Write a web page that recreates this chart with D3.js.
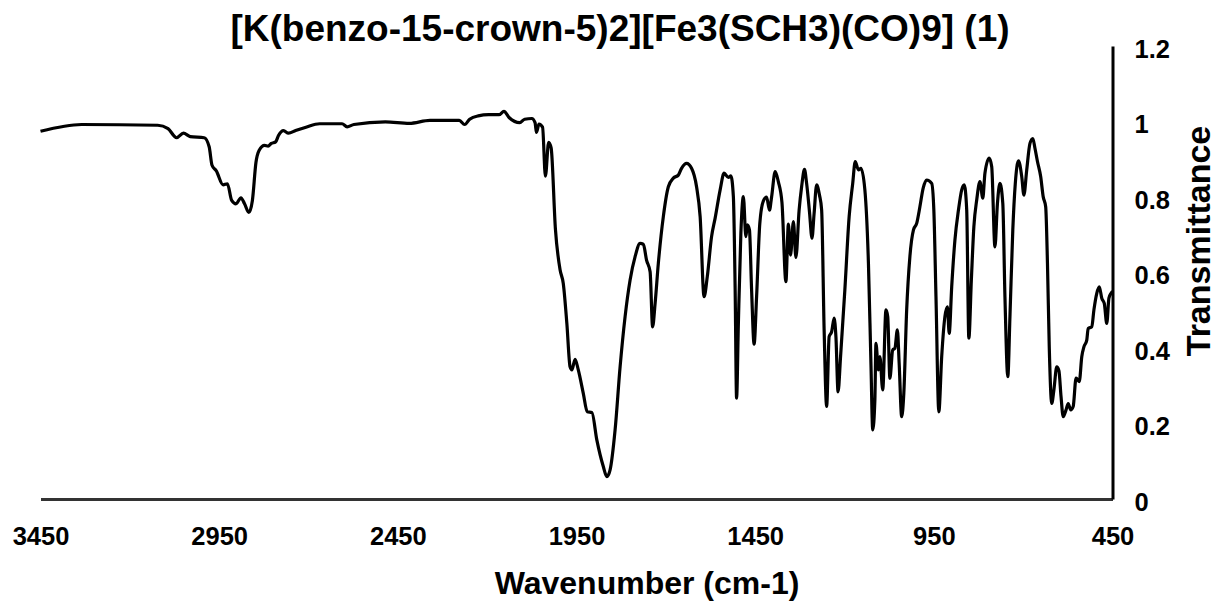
<!DOCTYPE html>
<html>
<head>
<meta charset="utf-8">
<script src="https://cdn.jsdelivr.net/npm/d3@7"></script>
<style>
  html, body { margin: 0; padding: 0; background: #fff; }
  svg text { font-family: "Liberation Sans", Arial, sans-serif; font-weight: bold; fill: #000; }
</style>
</head>
<body>
<svg id="chart" width="1218" height="607"></svg>
<script>
const chartTitle = "[K(benzo-15-crown-5)2][Fe3(SCH3)(CO)9] (1)";
const xAxisTitle = "Wavenumber (cm-1)";
const yAxisTitle = "Transmittance";
const xTicks = [3450, 2950, 2450, 1950, 1450, 950, 450];
const yTicks = [0, 0.2, 0.4, 0.6, 0.8, 1, 1.2];

const wavenumber = [
  3450, 3335, 3122, 3093, 3069, 3050, 3031, 2992, 2978, 2970, 2958, 2939, 2927, 2915, 2903,
  2889, 2879, 2867, 2857, 2847, 2838, 2823, 2813, 2804, 2792, 2784, 2770, 2756, 2736, 2707,
  2669, 2606, 2592, 2573, 2485, 2418, 2360, 2278, 2263, 2249, 2225, 2196, 2167, 2153, 2138,
  2109, 2095, 2075, 2066, 2062, 2055, 2045, 2037, 2028, 2021, 2009, 1996, 1987, 1977, 1968,
  1963, 1954, 1945, 1931, 1920, 1907, 1893, 1875, 1865, 1856, 1842, 1828, 1814, 1800, 1786,
  1772, 1763, 1754, 1744, 1737, 1730, 1721, 1707, 1693, 1679, 1665, 1656, 1642, 1628, 1614,
  1604, 1593, 1584, 1572, 1562, 1548, 1537, 1525, 1518, 1511, 1506, 1502, 1497, 1490, 1483,
  1476, 1472, 1466, 1460, 1453, 1446, 1437, 1427, 1418, 1410, 1404, 1394, 1385, 1375, 1364,
  1357, 1351, 1343, 1336, 1327, 1320, 1312, 1306, 1298, 1291, 1285, 1278, 1270, 1264, 1257,
  1250, 1243, 1236, 1229, 1224, 1218, 1211, 1199, 1187, 1177, 1170, 1161, 1154, 1143, 1133,
  1126, 1121, 1115, 1112, 1105, 1101, 1093, 1084, 1079, 1073, 1065, 1059, 1052, 1047, 1040,
  1034, 1026, 1017, 1007, 998, 989, 980, 970, 956, 950, 944, 936, 928, 919, 912,
  907, 900, 891, 881, 872, 865, 858, 852, 845, 838, 830, 821, 813, 807, 795,
  788, 779, 772, 765, 757, 751, 743, 737, 729, 722, 713, 704, 698, 690, 681,
  673, 667, 660, 651, 644, 637, 632, 627, 620, 614, 606, 600, 594, 588, 580,
  574, 567, 560, 552, 543, 536, 530, 522, 518, 508, 502, 494, 487, 480, 473,
  466, 460, 454, 450
];
const transmittance = [
  0.974, 0.992, 0.990, 0.981, 0.957, 0.969, 0.960, 0.957, 0.933, 0.884, 0.869, 0.832, 0.835, 0.791, 0.782,
  0.798, 0.782, 0.759, 0.791, 0.892, 0.924, 0.937, 0.935, 0.942, 0.946, 0.963, 0.976, 0.969, 0.976, 0.985,
  0.994, 0.994, 0.986, 0.992, 0.999, 0.995, 1.003, 1.003, 0.992, 1.006, 1.015, 1.018, 1.018, 1.027, 1.010,
  0.997, 1.006, 1.008, 0.997, 0.971, 0.993, 0.985, 0.855, 0.945, 0.930, 0.715, 0.607, 0.571, 0.465, 0.350,
  0.342, 0.370, 0.342, 0.280, 0.231, 0.229, 0.156, 0.086, 0.059, 0.077, 0.183, 0.350, 0.483, 0.580, 0.642,
  0.677, 0.675, 0.633, 0.602, 0.456, 0.518, 0.624, 0.748, 0.827, 0.850, 0.858, 0.876, 0.889, 0.876, 0.827,
  0.748, 0.536, 0.589, 0.695, 0.744, 0.819, 0.863, 0.852, 0.856, 0.801, 0.554, 0.267, 0.465, 0.704, 0.801,
  0.695, 0.726, 0.713, 0.554, 0.410, 0.536, 0.730, 0.790, 0.800, 0.765, 0.800, 0.867, 0.840, 0.785, 0.576,
  0.728, 0.646, 0.735, 0.640, 0.765, 0.827, 0.873, 0.836, 0.761, 0.691, 0.757, 0.832, 0.805, 0.766, 0.448,
  0.245, 0.430, 0.443, 0.479, 0.430, 0.284, 0.377, 0.554, 0.748, 0.836, 0.894, 0.872, 0.876, 0.819, 0.624,
  0.359, 0.183, 0.262, 0.412, 0.342, 0.377, 0.289, 0.501, 0.483, 0.320, 0.395, 0.399, 0.448, 0.359, 0.218,
  0.280, 0.501, 0.642, 0.713, 0.730, 0.774, 0.823, 0.845, 0.836, 0.766, 0.536, 0.231, 0.377, 0.483, 0.509,
  0.439, 0.562, 0.686, 0.766, 0.819, 0.832, 0.766, 0.426, 0.580, 0.721, 0.792, 0.841, 0.797, 0.863, 0.903,
  0.880, 0.668, 0.783, 0.836, 0.783, 0.536, 0.324, 0.483, 0.713, 0.836, 0.896, 0.854, 0.805, 0.872, 0.942,
  0.955, 0.929, 0.894, 0.854, 0.801, 0.774, 0.624, 0.403, 0.253, 0.289, 0.350, 0.340, 0.271, 0.218, 0.236,
  0.253, 0.236, 0.245, 0.320, 0.311, 0.377, 0.403, 0.421, 0.452, 0.456, 0.501, 0.545, 0.562, 0.532, 0.518,
  0.465, 0.532, 0.545, 0.550
];

const svg = d3.select("#chart");
const x = d3.scaleLinear().domain([3450, 450]).range([40.5, 1112.5]);
const y = d3.scaleLinear().domain([0, 1.2]).range([499, 46]);

const data = wavenumber.map((w, i) => ({ w, t: transmittance[i] }));

// curve
svg.append("path")
  .datum(data)
  .attr("fill", "none")
  .attr("stroke", "#000")
  .attr("stroke-width", 3.2)
  .attr("stroke-linejoin", "round")
  .attr("d", d3.line().x(d => x(d.w)).y(d => y(d.t)).curve(d3.curveMonotoneX));

// x axis (at 0)
const xAxis = svg.append("g").attr("transform", `translate(0,${y(0)})`)
  .call(d3.axisBottom(x).tickValues(xTicks).tickSize(0).tickPadding(0).tickFormat(d3.format("d")));
xAxis.select(".domain").attr("stroke", "#333").attr("stroke-width", 3);
xAxis.selectAll("text").attr("font-size", 25.5).attr("dy", null).attr("y", 46)
  .style("font-family", "'Liberation Sans', Arial, sans-serif").style("font-weight", "bold");

// right y axis
const yAxis = svg.append("g").attr("transform", `translate(${x(450)},0)`)
  .call(d3.axisRight(y).tickValues(yTicks).tickSize(0).tickPadding(22).tickFormat(d => d3.format("~g")(d)));
yAxis.select(".domain").attr("stroke", "#000").attr("stroke-width", 3);
yAxis.selectAll("text").attr("font-size", 25.5).attr("dy", "0.45em")
  .style("font-family", "'Liberation Sans', Arial, sans-serif").style("font-weight", "bold");

// titles
svg.append("text").attr("x", 620).attr("y", 41).attr("text-anchor", "middle")
  .attr("font-size", 37).text(chartTitle);
svg.append("text").attr("x", 647).attr("y", 594).attr("text-anchor", "middle")
  .attr("font-size", 32).text(xAxisTitle);
svg.append("text").attr("transform", "translate(1210,241) rotate(-90)").attr("text-anchor", "middle")
  .attr("font-size", 34).text(yAxisTitle);
</script>
</body>
</html>
